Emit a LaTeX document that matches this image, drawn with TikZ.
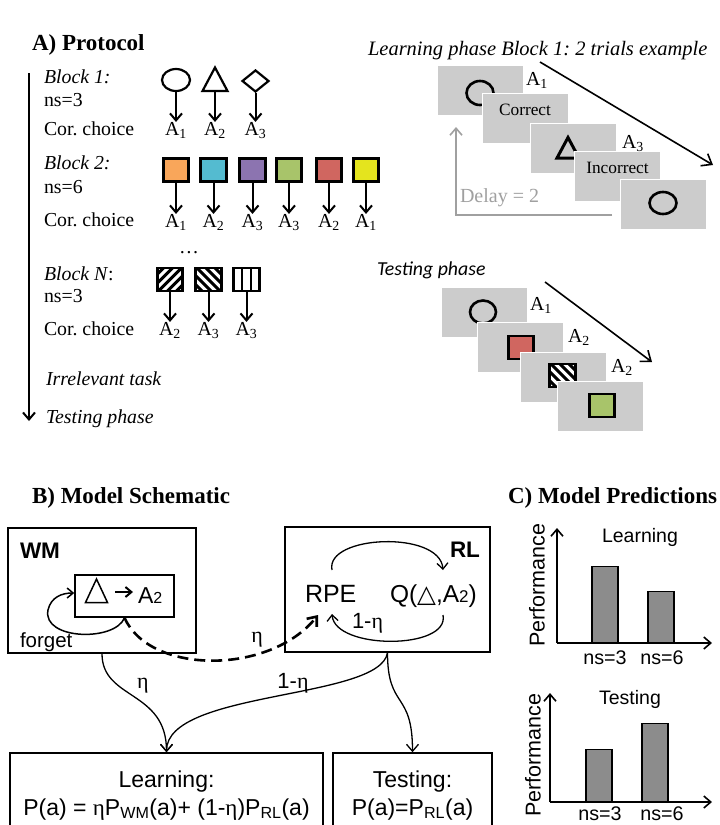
\documentclass[tikz,border=0pt]{standalone}
\usepackage{fontspec}
\setmainfont{Liberation Serif}
\setsansfont{Liberation Sans}
\newfontfamily\calib{Carlito}
\newfontfamily\djv{DejaVu Sans}
\usetikzlibrary{arrows.meta,shapes.geometric}
\definecolor{scr}{RGB}{204,204,204}
\definecolor{sqor}{RGB}{249,166,90}
\definecolor{sqbl}{RGB}{84,187,208}
\definecolor{sqpu}{RGB}{140,116,176}
\definecolor{sqgr}{RGB}{168,196,106}
\definecolor{sqre}{RGB}{208,102,96}
\definecolor{sqye}{RGB}{228,228,30}
\definecolor{dgray}{RGB}{160,160,160}
\definecolor{bargray}{RGB}{140,140,140}
\newcommand{\fs}[1]{\fontsize{#1}{#1}\selectfont}
\frenchspacing
\tikzset{
  txt/.style={inner sep=0,outer sep=0},
  serf/.style={txt,font=\fs{19.8}},
  head/.style={txt,font=\fs{23}\bfseries},
  sansf/.style={txt,font=\sffamily\fs{23}},
  parr/.style={line width=2,-{Straight Barb[length=7,width=12]}},
  thinarr/.style={line width=1.3,-{Straight Barb[length=7,width=12]}},
  shp/.style={draw,line width=2.2,inner sep=0},
  sq/.style={draw,line width=2.8,inner sep=0,minimum width=25.5,minimum height=23},
  screen/.style={fill=scr,draw=white,line width=1,inner sep=0,minimum width=86,minimum height=50},
  scrtxt/.style={txt,font=\fs{17.3}},
  boxb/.style={draw,line width=1.5,inner sep=0},
  bar/.style={draw,fill=bargray,line width=1.2,inner sep=0,minimum width=26,anchor=south},
  hatchA/.style={path picture={\foreach \k in {-18,-9,0,9,18}{\draw[line width=3] ([xshift=\k pt-15pt,yshift=-15pt]path picture bounding box.center) -- ([xshift=\k pt+15pt,yshift=15pt]path picture bounding box.center);}}},
  hatchB/.style={path picture={\foreach \k in {-18,-9,0,9,18}{\draw[line width=3] ([xshift=\k pt-15pt,yshift=15pt]path picture bounding box.center) -- ([xshift=\k pt+15pt,yshift=-15pt]path picture bounding box.center);}}},
  hatchC/.style={path picture={\foreach \k in {-4.7,4.7}{\draw[line width=2.5] ([xshift=\k pt,yshift=-15pt]path picture bounding box.center) -- ([xshift=\k pt,yshift=15pt]path picture bounding box.center);}}},
}
\begin{document}
\begin{tikzpicture}[x=1pt,y=-1pt]
\useasboundingbox (0,0) rectangle (720,825);
\clip (0,0) rectangle (720,825);
\fill[white] (0,0) rectangle (720,825);

% ---------------- A) Protocol
\node[head,anchor=base west] (hA) at (32,50) {A) Protocol};
\coordinate (tl0) at (29,73);
\coordinate (tl1) at (29,421);
\draw[parr] (tl0) -- (tl1);

\node[serf,anchor=base west] (b1t) at (44,83) {\itshape Block 1:};
\node[serf,anchor=base west] (b1n) at (44,106) {ns=3};
\node[serf,anchor=base west] (b1c) at (44,135) {Cor. choice};

\node[shp,ellipse,minimum width=28,minimum height=22] (c1) at (176,80) {};
\draw[line width=2.2,line join=miter] (202.5,91) -- (227.5,91) -- (215,67.5) -- cycle;
\coordinate (tr1) at (215,91);
\node[shp,diamond,minimum width=27,minimum height=22] (d1) at (255.5,81) {};
\node[serf,anchor=base] (l11) at (176,135) {A\textsubscript{1}};
\node[serf,anchor=base] (l12) at (215,135) {A\textsubscript{2}};
\node[serf,anchor=base] (l13) at (255.5,135) {A\textsubscript{3}};
\draw[parr] (c1.south) -- (l11.north);
\draw[parr] (tr1) -- (l12.north);
\draw[parr] (d1.south) -- (l13.north);

\node[serf,anchor=base west] (b2t) at (44,169) {\itshape Block 2:};
\node[serf,anchor=base west] (b2n) at (44,193) {ns=6};
\node[serf,anchor=base west] (b2c) at (44,226) {Cor. choice};
\foreach \x/\c/\a [count=\i] in {176/sqor/1,213.5/sqbl/2,252.5/sqpu/3,289/sqgr/3,329/sqre/2,366/sqye/1}{
  \node[sq,fill=\c] (q\i) at (\x,170) {};
  \node[serf,anchor=base] (m\i) at (\x,227) {A\textsubscript{\a}};
  \draw[parr] (q\i.south) -- (m\i.north);
}
\node[serf,anchor=base] (dots) at (189,253) {\ldots};

\node[serf,anchor=base west] (bnt) at (44,280) {\textit{Block N}:};
\node[serf,anchor=base west] (bnn) at (44,302) {ns=3};
\node[serf,anchor=base west] (bnc) at (44,335) {Cor. choice};
\node[sq,fill=white,hatchA] (h1) at (170,279.5) {};
\node[sq,fill=white,hatchB] (h2) at (208.5,279.5) {};
\node[sq,fill=white,hatchC] (h3) at (246.5,279.5) {};
\node[serf,anchor=base] (n1) at (170,335) {A\textsubscript{2}};
\node[serf,anchor=base] (n2) at (208.5,335) {A\textsubscript{3}};
\node[serf,anchor=base] (n3) at (246.5,335) {A\textsubscript{3}};
\draw[parr] (h1.south) -- (n1.north);
\draw[parr] (h2.south) -- (n2.north);
\draw[parr] (h3.south) -- (n3.north);

\node[serf,anchor=base west] (irr) at (46,385) {\itshape Irrelevant task};
\node[serf,anchor=base west] (tst) at (46,423) {\itshape Testing phase};

% ---------------- Learning phase example
\node[txt,anchor=base west,font=\fs{20.5}\itshape] (lph) at (368,55) {Learning phase Block 1: 2 trials example};
\node[screen] (s1) at (480,90) {};
\node[shp,ellipse,line width=2.6,minimum width=27,minimum height=24] (o1) at (480,93) {};
\node[screen] (s2) at (525,118) {};
\node[scrtxt] (s2t) at (525,110) {Correct};
\node[serf,anchor=base west] (r1) at (526,85) {A\textsubscript{1}};
\node[screen] (s3) at (573.5,148.5) {};
\draw[line width=3,line join=miter] (557,158) -- (568,137.5) -- (579,158) -- cycle;
\node[screen] (s4) at (617.5,176) {};
\node[scrtxt] (s4t) at (617.5,168) {Incorrect};
\node[serf,anchor=base west] (r3) at (622,148) {A\textsubscript{3}};
\node[screen] (s5) at (663,204) {};
\node[shp,ellipse,line width=2.6,minimum width=27,minimum height=22] (o5) at (663,203) {};
\node[txt,anchor=base west,text=dgray,font=\fs{20}] (dly) at (460,202) {Delay = 2};
\coordinate (g0) at (612,215);
\coordinate (g1) at (456,127);
\draw[line width=1.6,dgray,-{Straight Barb[length=7,width=12]}] (g0) -| (g1);
\coordinate (k0) at (540,62);
\coordinate (k1) at (713,165);
\draw[line width=1.6,-{Straight Barb[length=9,width=14]}] (k0) -- (k1);

% ---------------- Testing phase example
\node[txt,anchor=base west,font=\calib\itshape\fs{19.8}] (tph) at (377,275) {Testing phase};
\node[screen] (t1) at (484,312.5) {};
\node[shp,ellipse,line width=2.6,minimum width=26,minimum height=23] (p1) at (483,312) {};
\node[screen] (t2) at (520.5,347.5) {};
\node[sq,fill=sqre] (p2) at (521,347.5) {};
\node[screen] (t3) at (563,377.5) {};
\node[sq,fill=white,hatchB] (p3) at (562.5,375.5) {};
\node[screen] (t4) at (600.5,406.5) {};
\node[sq,fill=sqgr] (p4) at (602,405.5) {};
\node[serf,anchor=base west] (u1) at (530,310) {A\textsubscript{1}};
\node[serf,anchor=base west] (u2) at (568,342) {A\textsubscript{2}};
\node[serf,anchor=base west] (u3) at (611,372) {A\textsubscript{2}};
\coordinate (j0) at (545,282);
\coordinate (j1) at (652,362);
\draw[line width=1.6,-{Straight Barb[length=9,width=14]}] (j0) -- (j1);

% ---------------- B) Model schematic
\node[head,anchor=base west] (hB) at (32,503) {B) Model Schematic};
\node[boxb,minimum width=188,minimum height=125] (wm) at (102,590.5) {};
\node[txt,anchor=base west,font=\sffamily\bfseries\fs{22.5}] (wmt) at (20,558) {WM};
\node[boxb,minimum width=99,minimum height=42] (wmi) at (124.5,596) {};
\draw[line width=1.5] (85.5,602.5) -- (107.5,602.5) -- (96.5,579) -- cycle;
\coordinate (ia0) at (115,592);
\coordinate (ia1) at (133,592);
\draw[line width=2,-{Straight Barb[length=6,width=10]}] (ia0) -- (ia1);
\node[txt,anchor=base west,font=\sffamily\fs{23}] (wa2) at (138,603.5) {A{\fs{16}2}};
\draw[line width=1.5,-{Straight Barb[length=6,width=10]}] (wmi.south) .. controls (115,642) and (42,640) .. (48,610) .. controls (51,597) and (62,593) .. ([yshift=3pt]wmi.west);
\node[txt,anchor=base west,font=\sffamily\fs{20.5}] (fgt) at (20,647) {forget};

\node[boxb,minimum width=205,minimum height=125] (rl) at (387.5,589.5) {};
\node[txt,anchor=base west,font=\sffamily\bfseries\fs{22.5}] (rlt) at (450,557) {RL};
\node[txt,anchor=base west,font=\sffamily\fs{25}] (rpe) at (305,602.5) {RPE};
\node[txt,anchor=base west,font=\sffamily\fs{24.5}] (qv) at (390,602.5) {Q({\djv △},A{\fs{17}2})};
\coordinate (ra0) at (332,570);
\coordinate (ra1) at (443,570);
\coordinate (rb0) at (443,615);
\coordinate (rb1) at (332,614);
\draw[line width=1.3,-{Straight Barb[length=6,width=11]}] (ra0) .. controls (325,535) and (440,530) .. (ra1);
\draw[line width=1.3,-{Straight Barb[length=6,width=11]}] (rb0) .. controls (450,650) and (335,650) .. (rb1);
\node[txt,anchor=base west,font=\sffamily\fs{22}] (omn) at (352,628) {1-{\rmfamily η}};

\coordinate (dsh) at (318,615);
\draw[line width=2.6,dash pattern=on 11pt off 6pt,-{Straight Barb[length=8,width=13]}] (wmi.south) .. controls (150,675) and (270,675) .. (dsh);
\node[txt,font=\fs{22}] (eta1) at (257,640) {η};

\node[boxb,minimum width=313,minimum height=90] (learn) at (166.5,798) {};
\node[boxb,minimum width=159,minimum height=90] (test) at (412.5,798) {};
\draw[thinarr] (wm.south) .. controls (102,700) and (166.5,690) .. (learn.north);
\draw[thinarr] (rl.south) .. controls (380,700) and (166.5,690) .. (learn.north);
\draw[thinarr] (rl.south) .. controls (387.5,710) and (412.5,690) .. (test.north);
\node[txt,font=\fs{22}] (eta2) at (143,686) {η};
\node[txt,font=\sffamily\fs{22}] (omn2) at (293,683) {1-{\rmfamily η}};

\node[sansf,anchor=base] (lt1) at (166.5,787) {Learning:};
\node[sansf,anchor=base] (lt2) at (166.5,815) {P(a) = {\rmfamily η}P\textsubscript{WM}(a)+ (1-{\rmfamily η})P\textsubscript{RL}(a)};
\node[sansf,anchor=base] (tt1) at (412.5,787) {Testing:};
\node[sansf,anchor=base] (tt2) at (412.5,815) {P(a)=P\textsubscript{RL}(a)};

% ---------------- C) Model predictions
\node[head,anchor=base west] (hC) at (508,503) {C) Model Predictions};
\coordinate (ao1) at (557,643);
\coordinate (ay1) at (557,528);
\coordinate (ax1) at (712,643);
\node[bar,minimum height=76] (bl1) at (605,643) {};
\node[bar,minimum height=51] (bl2) at (661,643) {};
\draw[line width=1.6,-{Straight Barb[length=7,width=12]}] (ao1) -- (ay1);
\draw[line width=1.6,-{Straight Barb[length=7,width=12]}] (ao1) -- (ax1);
\node[txt,font=\sffamily\fs{19.5}] (ct1) at (640,537) {Learning};
\node[txt,font=\sffamily\fs{21.5},rotate=90] (pf1) at (537,585) {Performance};
\node[txt,font=\sffamily\fs{19.7}] (ns13) at (605,658) {ns=3};
\node[txt,font=\sffamily\fs{19.7}] (ns16) at (662,658) {ns=6};

\coordinate (ao2) at (550,802);
\coordinate (ay2) at (550,693);
\coordinate (ax2) at (712,802);
\node[bar,minimum height=52] (bt1) at (599,802) {};
\node[bar,minimum height=78] (bt2) at (655,802) {};
\draw[line width=1.6,-{Straight Barb[length=7,width=12]}] (ao2) -- (ay2);
\draw[line width=1.6,-{Straight Barb[length=7,width=12]}] (ao2) -- (ax2);
\node[txt,font=\sffamily\fs{19.5}] (ct2) at (630,699) {Testing};
\node[txt,font=\sffamily\fs{21.5},rotate=90] (pf2) at (533,755) {Performance};
\node[txt,font=\sffamily\fs{19.7}] (ns23) at (600,814) {ns=3};
\node[txt,font=\sffamily\fs{19.7}] (ns26) at (662,814) {ns=6};
\end{tikzpicture}
\end{document}
